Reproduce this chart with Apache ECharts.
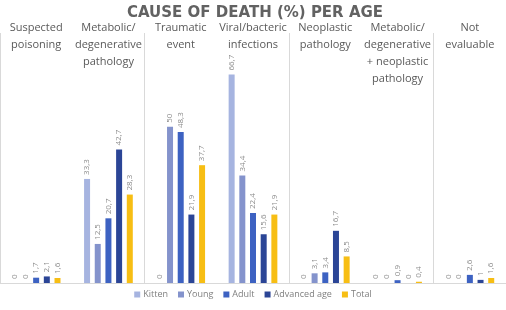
<!DOCTYPE html>
<html>
<head>
<meta charset="utf-8">
<style>
  html, body { margin: 0; padding: 0; background: #fff; }
  #container { width: 506px; height: 310px; }
</style>
<script src="https://cdn.jsdelivr.net/npm/echarts@6/dist/echarts.min.js"></script>
</head>
<body>
<div id="container"></div>
<script>
const categories = [
    'Suspected\npoisoning',
    'Metabolic/\ndegenerative\npathology',
    'Traumatic\nevent',
    'Viral/bacteric\ninfections',
    'Neoplastic\npathology',
    'Metabolic/\ndegenerative\n+ neoplastic\npathology',
    'Not\nevaluable'
]
const kitten = [0, 33.3, 0, 66.7, 0, 0, 0]
const young = [0, 12.5, 50, 34.4, 3.1, 0, 0]
const adult = [1.7, 20.7, 48.3, 22.4, 3.4, 0.9, 2.6]
const advanced = [2.1, 42.7, 21.9, 15.6, 16.7, 0, 1]
const total = [1.6, 28.3, 37.7, 21.9, 8.5, 0.4, 1.6]

const font = 'Open Sans'
const dom = document.getElementById('container')
const myChart = echarts.init(dom)

const makeSeries = (name, data, color) => ({
    name: name,
    type: 'bar',
    barWidth: 6,
    barGap: '78%',
    itemStyle: { color: color },
    label: {
        show: true,
        position: 'top',
        rotate: 90,
        align: 'left',
        verticalAlign: 'middle',
        distance: 4,
        fontSize: 8,
        fontFamily: font,
        color: '#8c8c8c',
        formatter: (p) => String(p.value).replace('.', ',')
    },
    data: data
})

const option = {
    backgroundColor: '#fff',
    animation: false,
    title: {
        text: 'CAUSE OF DEATH (%) PER AGE',
        left: 250,
        textAlign: 'center',
        top: 1,
        textStyle: {
            fontFamily: 'DejaVu Sans',
            fontSize: 15,
            fontWeight: 'bold',
            color: '#626262'
        }
    },
    legend: {
        data: ['Kitten', 'Young', 'Adult', 'Advanced age', 'Total'],
        bottom: 6,
        left: 'center',
        itemWidth: 6,
        itemHeight: 6,
        itemGap: 10,
        icon: 'rect',
        textStyle: {
            fontFamily: font,
            fontSize: 9,
            color: '#7f7f7f',
            padding: [0, 0, 0, -2]
        }
    },
    grid: {
        left: -8,
        right: -9,
        top: 33,
        bottom: 27
    },
    xAxis: [
        {
            type: 'category',
            position: 'bottom',
            data: categories,
            axisLine: { lineStyle: { color: '#d9d9d9' } },
            axisTick: { show: false },
            axisLabel: { show: false },
            splitLine: { show: true, lineStyle: { color: '#d9d9d9' } }
        },
        {
            type: 'category',
            position: 'top',
            data: categories,
            axisLine: { show: false },
            axisTick: { show: false },
            axisLabel: {
                verticalAlign: 'top',
                margin: 14,
                lineHeight: 17,
                fontFamily: font,
                fontSize: 11,
                color: '#595959',
                interval: 0
            }
        }
    ],
    yAxis: {
        type: 'value',
        min: 0,
        max: 80,
        show: false
    },
    series: [
        makeSeries('Kitten', kitten, '#a6b4e0'),
        makeSeries('Young', young, '#8493cc'),
        makeSeries('Adult', adult, '#3d62c2'),
        makeSeries('Advanced age', advanced, '#2b4596'),
        makeSeries('Total', total, '#f7be14')
    ]
}

myChart.setOption(option)
</script>
</body>
</html>
